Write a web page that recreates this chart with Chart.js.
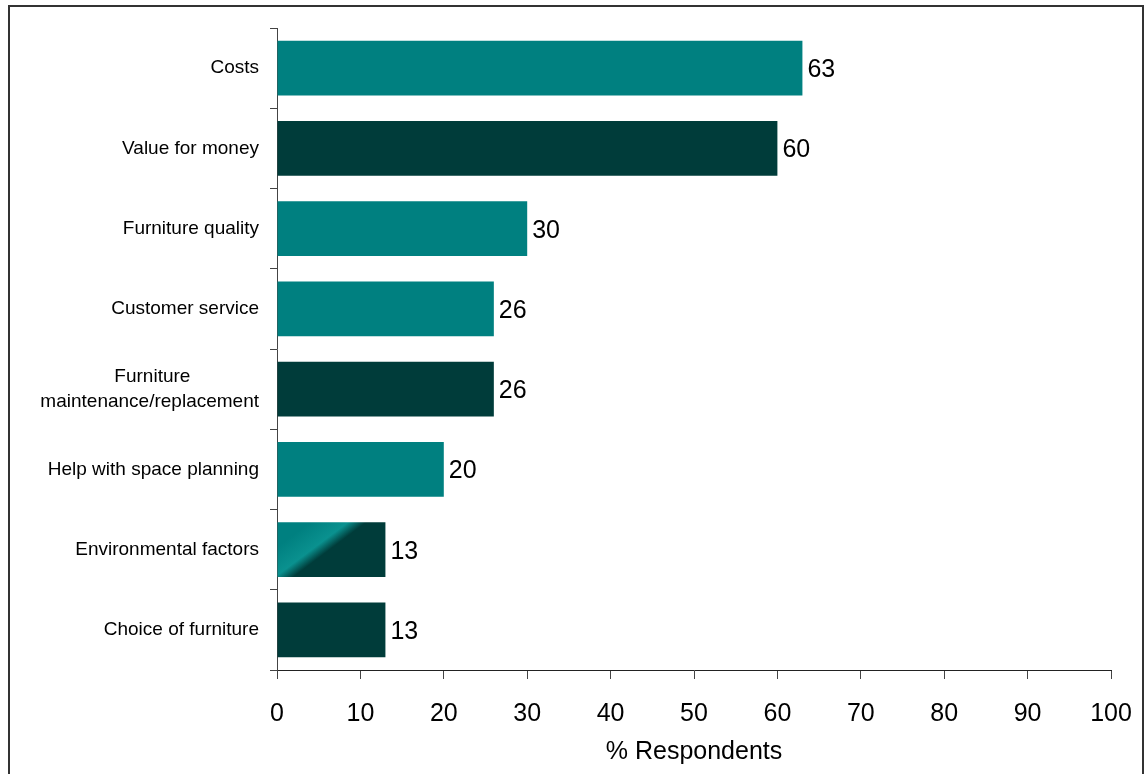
<!DOCTYPE html>
<html>
<head>
<meta charset="utf-8">
<script src="https://cdn.jsdelivr.net/npm/chart.js@4"></script>
<style>
  html, body { margin: 0; padding: 0; background: #fff; overflow: hidden; }
  #wrap { position: relative; width: 1144px; height: 774px; }
  #frame { position: absolute; left: 8px; top: 5px; width: 1132px; height: 820px; border: 2px solid #333; pointer-events: none; }
</style>
</head>
<body>
<div id="wrap">
  <canvas id="myChart" width="1144" height="774"></canvas>
  <div id="frame"></div>
</div>
<script>
const categories = [
  "Costs",
  "Value for money",
  "Furniture quality",
  "Customer service",
  ["Furniture             ", "maintenance/replacement"],
  "Help with space planning",
  "Environmental factors",
  "Choice of furniture",
];
const respondents = [63, 60, 30, 26, 26, 20, 13, 13];
const xTicks = [0, 10, 20, 30, 40, 50, 60, 70, 80, 90, 100];

const teal = "#008080";
const dark = "#003c3a";
const barColors = [teal, dark, teal, teal, dark, teal, "gradient", dark];
const barPct = 0.68;
const fontFamily = "'Liberation Sans', Arial, sans-serif";

// diagonal teal -> dark fill used by one bar
function barFill(ctx) {
  const i = ctx.dataIndex;
  if (barColors[i] !== "gradient") return barColors[i];
  const chart = ctx.chart;
  const xs = chart.scales.x, ys = chart.scales.y;
  if (!chart.chartArea || !xs || !ys) return teal;
  const x0 = xs.getPixelForValue(0);
  const x1 = xs.getPixelForValue(respondents[i]);
  const yc = ys.getPixelForValue(i);
  const cx = x0 + (x1 - x0) * 0.43;
  const g = chart.ctx.createLinearGradient(cx - 18, yc - 24, cx + 18, yc + 24);
  g.addColorStop(0, teal);
  g.addColorStop(0.38, "#0a918f");
  g.addColorStop(0.56, dark);
  g.addColorStop(1, dark);
  return g;
}

const valueLabels = {
  id: "valueLabels",
  afterDatasetsDraw(chart) {
    const ctx = chart.ctx;
    const meta = chart.getDatasetMeta(0);
    ctx.save();
    ctx.font = "25px " + fontFamily;
    ctx.fillStyle = "#000";
    ctx.textAlign = "left";
    ctx.textBaseline = "middle";
    meta.data.forEach((bar, i) => {
      ctx.fillText(String(respondents[i]), bar.x + 5, bar.y + 2);
    });
    ctx.restore();
  },
};

const canvas = document.getElementById("myChart");

const myChart = new Chart(canvas, {
  type: "bar",
  data: {
    labels: categories,
    datasets: [
      {
        label: "% Respondents",
        data: respondents,
        backgroundColor: barFill,
        borderWidth: 0,
        barPercentage: barPct,
        categoryPercentage: 1,
      },
    ],
  },
  options: {
    indexAxis: "y",
    responsive: false,
    animation: false,
    layout: { padding: { left: 0, right: 33, top: 28, bottom: 0 } },
    plugins: {
      legend: { display: false },
      tooltip: { enabled: false },
    },
    scales: {
      x: {
        min: 0,
        max: 100,
        afterFit: (scale) => {
          scale.height = 104;
          scale.paddingLeft = 0;
          scale.paddingRight = 0;
        },
        afterBuildTicks: (scale) => { scale.ticks = xTicks.map((v) => ({ value: v })); },
        grid: { drawOnChartArea: false, drawTicks: true, tickLength: 9, color: "#444" },
        border: { display: true, color: "#222", width: 1 },
        ticks: {
          color: "#000",
          padding: 20,
          maxRotation: 0,
          font: { family: fontFamily, size: 25 },
        },
        title: {
          display: true,
          text: "% Respondents",
          color: "#000",
          padding: { top: 0, bottom: 7 },
          font: { family: fontFamily, size: 25 },
        },
      },
      y: {
        afterFit: (scale) => { scale.width = 277; },
        grid: { drawOnChartArea: false, drawTicks: true, tickLength: 7, color: "#444" },
        border: { display: true, color: "#444", width: 1 },
        ticks: {
          color: "#000",
          padding: 11,
          font: { family: fontFamily, size: 19, lineHeight: 1.32 },
        },
      },
    },
  },
  plugins: [valueLabels],
});
</script>
</body>
</html>
